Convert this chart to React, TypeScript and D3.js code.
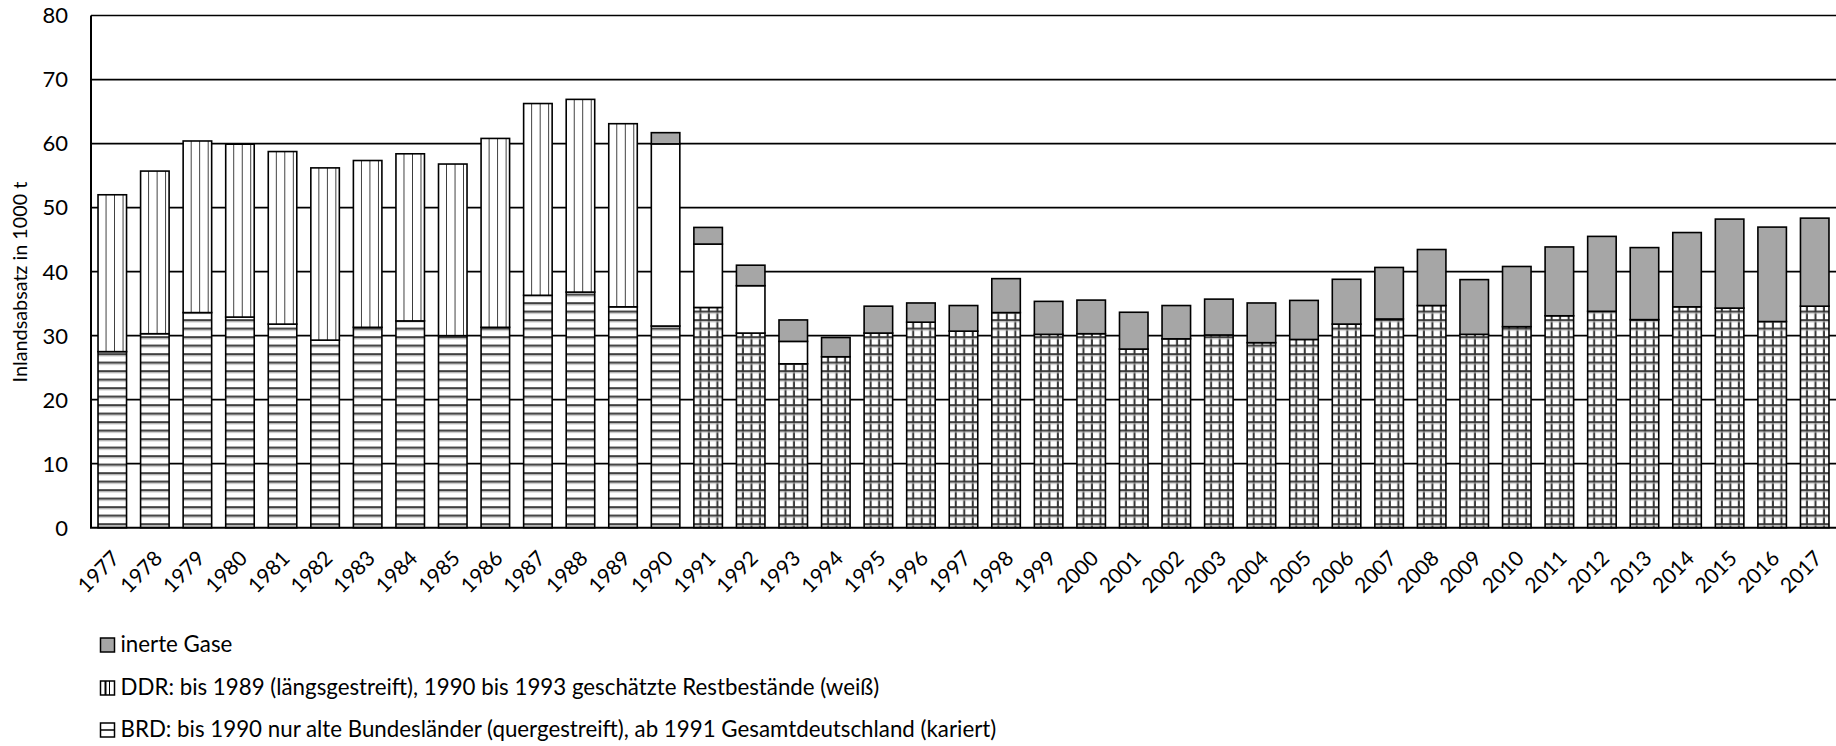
import React from "react";
import * as d3 from "d3";

const years = [
  "1977","1978","1979","1980","1981","1982","1983","1984","1985","1986","1987","1988","1989","1990",
  "1991","1992","1993","1994","1995","1996","1997","1998","1999","2000","2001","2002","2003","2004",
  "2005","2006","2007","2008","2009","2010","2011","2012","2013","2014","2015","2016","2017",
];

// BRD (bottom segment)
const brd = [
  27.5, 30.3, 33.6, 32.9, 31.8, 29.3, 31.3, 32.3, 30.0, 31.3, 36.3, 36.8, 34.5, 31.5,
  34.4, 30.4, 25.6, 26.7, 30.4, 32.1, 30.7, 33.6, 30.2, 30.3, 27.9, 29.5, 30.1, 28.9,
  29.4, 31.8, 32.6, 34.7, 30.2, 31.4, 33.1, 33.8, 32.5, 34.5, 34.3, 32.2, 34.6,
];

// DDR (middle segment)
const ddr = [
  24.5, 25.4, 26.8, 27.0, 26.95, 26.9, 26.05, 26.1, 26.8, 29.5, 29.95, 30.1, 28.6, 28.45,
  9.9, 7.4, 3.5, 0, 0, 0, 0, 0, 0, 0, 0, 0, 0, 0,
  0, 0, 0, 0, 0, 0, 0, 0, 0, 0, 0, 0, 0,
];

// inerte Gase (top segment)
const inert = [
  0, 0, 0, 0, 0, 0, 0, 0, 0, 0, 0, 0, 0, 1.75,
  2.6, 3.2, 3.35, 3.0, 4.2, 3.0, 4.0, 5.3, 5.15, 5.25, 5.75, 5.2, 5.6, 6.2,
  6.1, 7.0, 8.05, 8.75, 8.55, 9.4, 10.75, 11.7, 11.25, 11.6, 13.9, 14.75, 13.75,
];

const yTicks = [0, 10, 20, 30, 40, 50, 60, 70, 80];
const yTitle = "Inlandsabsatz in 1000 t";
const legendLabels = [
  "inerte Gase",
  "DDR: bis 1989 (längsgestreift), 1990 bis 1993 geschätzte Restbestände (weiß)",
  "BRD: bis 1990 nur alte Bundesländer (quergestreift), ab 1991 Gesamtdeutschland (kariert)",
];

const W = 1836;
const H = 746;
const FONT = "Lato, 'Open Sans', sans-serif";
const P = 8.5; // pattern period
const LINE = "#333";

export default function App() {
  const table = years.map((y, i) => ({ year: y, brd: brd[i], ddr: ddr[i], inert: inert[i] }));
  const stack = d3.stack<any>().keys(["brd", "ddr", "inert"])(table);

  const x = d3.scaleBand<string>().domain(years).range([91, 1836]).paddingInner(0.33).paddingOuter(0.165);
  const y = d3.scaleLinear().domain([0, 80]).range([527.7, 15.5]);
  const bw = x.bandwidth();

  const defs: React.ReactNode[] = [];
  const rects: React.ReactNode[] = [];

  stack.forEach((layer) => {
    layer.forEach((d, i) => {
      const yr = years[i];
      const v = d[1] - d[0];
      if (v <= 0) return;
      const bx = x(yr)!;
      const top = y(d[1]);
      const bot = y(d[0]);
      let fill = "#fff";
      const yrNum = +yr;
      if (layer.key === "brd") {
        const id = `p-brd-${yr}`;
        if (yrNum <= 1990) {
          defs.push(
            <pattern key={id} id={id} patternUnits="userSpaceOnUse" x={bx} y={bot} width={P} height={P}>
              <rect width={P} height={P} fill="#fff" />
              <rect x={0} y={P - 4.5} width={P} height={2} fill={LINE} />
              <rect x={0} y={P - 2.5} width={P} height={1} fill="#aaa" />
            </pattern>
          );
        } else {
          defs.push(
            <pattern key={id} id={id} patternUnits="userSpaceOnUse" x={bx} y={bot} width={P} height={P}>
              <rect width={P} height={P} fill="#fff" />
              <rect x={0} y={P - 4.5} width={P} height={2} fill={LINE} />
              <rect x={P - 3} y={0} width={2} height={P} fill={LINE} />
              <rect x={0} y={P - 2.5} width={P} height={1} fill="#bbb" />
            </pattern>
          );
        }
        fill = `url(#${id})`;
      } else if (layer.key === "ddr") {
        if (yrNum <= 1989) {
          const id = `p-ddr-${yr}`;
          defs.push(
            <pattern key={id} id={id} patternUnits="userSpaceOnUse" x={bx} y={0} width={P} height={P}>
              <rect width={P} height={P} fill="#fff" />
              <rect x={P - 0.8} y={0} width={2} height={P} fill="#111" />
            </pattern>
          );
          fill = `url(#${id})`;
        } else {
          fill = "#fff";
        }
      } else {
        fill = "#a6a6a6";
      }
      rects.push(
        <rect
          key={`${layer.key}-${yr}`}
          x={bx}
          y={top}
          width={bw}
          height={bot - top}
          fill={fill}
          stroke="#000"
          strokeWidth={1.6}
        />
      );
    });
  });

  const legendY = [652, 695, 737];

  return (
    <div style={{ position: "absolute", left: 0, top: 0, width: W, height: H, overflow: "hidden", background: "#fff" }}>
      <style>{`body{margin:0}`}</style>
      <svg width={W} height={H} style={{ display: "block" }} fontFamily={FONT}>
        <defs>{defs}</defs>
        {/* gridlines */}
        {yTicks.filter((t) => t > 0).map((t) => (
          <line key={`g${t}`} x1={91} x2={1836} y1={y(t)} y2={y(t)} stroke="#000" strokeWidth={1.7} />
        ))}
        {rects}
        {/* axes */}
        <line x1={91} x2={91} y1={y(80)} y2={y(0)} stroke="#000" strokeWidth={2} />
        <line x1={90} x2={1836} y1={y(0)} y2={y(0)} stroke="#000" strokeWidth={2} />
        {/* y tick labels */}
        {yTicks.map((t) => (
          <text key={`yt${t}`} x={68} y={y(t)} dy="0.36em" textAnchor="end" fontSize={22} fill="#000">
            {t}
          </text>
        ))}
        {/* y title */}
        <text
          transform={`translate(27,282) rotate(-90)`}
          textAnchor="middle"
          fontSize={19.8}
          fill="#000"
        >
          {yTitle}
        </text>
        {/* x labels */}
        {years.map((yr) => {
          const cx = x(yr)! + bw / 2;
          return (
            <text
              key={`xl${yr}`}
              transform={`translate(${cx - 2},${549}) rotate(-45)`}
              textAnchor="end"
              dy="0.72em"
              fontSize={21}
              fill="#000"
            >
              {yr}
            </text>
          );
        })}
        {/* legend */}
        <g>
          <rect x={100.5} y={legendY[0] - 14} width={14} height={14} fill="#a6a6a6" stroke="#000" strokeWidth={1.5} />
          <g>
            <rect x={100.5} y={legendY[1] - 14} width={14} height={14} fill="#fff" stroke="#000" strokeWidth={1.5} />
            <line x1={105.5} x2={105.5} y1={legendY[1] - 14} y2={legendY[1]} stroke="#000" strokeWidth={2} />
            <line x1={109.5} x2={109.5} y1={legendY[1] - 14} y2={legendY[1]} stroke="#000" strokeWidth={1} />
          </g>
          <g>
            <rect x={100.5} y={legendY[2] - 14} width={14} height={14} fill="#fff" stroke="#000" strokeWidth={1.5} />
            <line x1={100.5} x2={114.5} y1={legendY[2] - 7} y2={legendY[2] - 7} stroke="#000" strokeWidth={1.5} />
          </g>
          {legendLabels.map((l, i) => (
            <text key={`lg${i}`} x={120.5} y={legendY[i]} fontSize={22.3} fill="#000">
              {l}
            </text>
          ))}
        </g>
      </svg>
    </div>
  );
}
